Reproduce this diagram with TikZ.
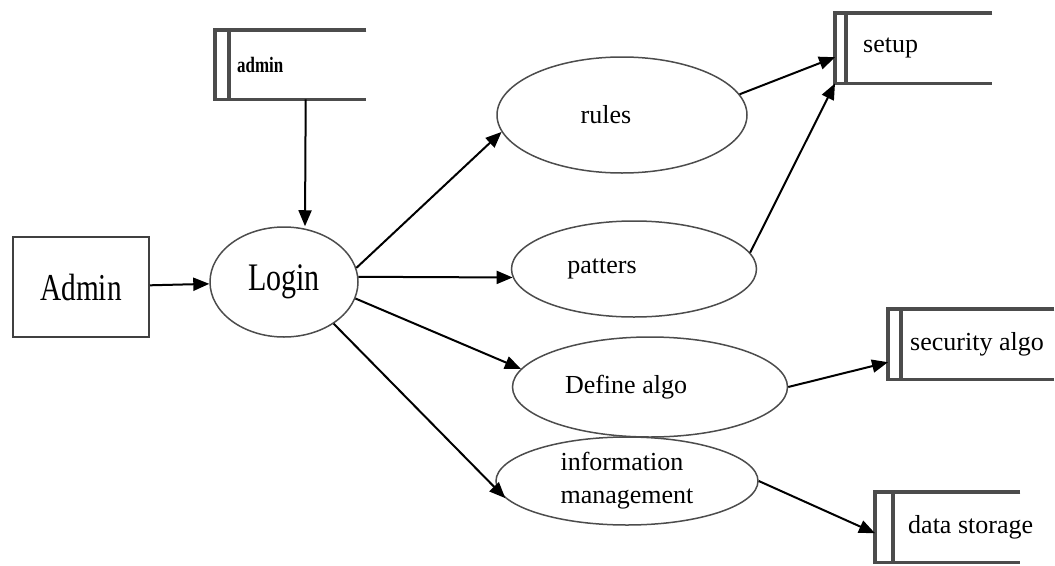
\documentclass[tikz,border=0pt]{standalone}
\usepackage{fontspec}
\setmainfont{Liberation Serif}
\newfontfamily\narrowserif[FakeStretch=0.77]{Liberation Serif}
\usepackage{tikz}
\usetikzlibrary{shapes.geometric,arrows.meta,positioning}
\newcommand{\storeframe}[2]{%
    \draw[storeline] (#1.north east) -- (#1.north west) -- (#1.south west) -- (#1.south east);
    \draw[storeline] ([xshift=#2]#1.north west) -- ([xshift=#2]#1.south west);}

\begin{document}
\begin{tikzpicture}[
    x=1pt, y=-1pt,
    proc/.style={ellipse, draw=black!70, line width=1.5pt, inner sep=0pt, font=\fontsize{26}{33}\selectfont, align=center},
    entity/.style={rectangle, draw=black!75, line width=2pt, minimum width=136pt, minimum height=100pt, font=\narrowserif\fontsize{38}{40}\selectfont},
    store/.style={rectangle, inner sep=0pt, anchor=north west, minimum height=70pt},
    storeline/.style={line width=3.2pt, black!70},
    storetext/.style={inner sep=0pt, font=\fontsize{26}{29}\selectfont},
    arrow/.style={-{Triangle[length=16pt, width=13pt]}, line width=2pt}
]
    \useasboundingbox (0,0) rectangle (1055,565);

    % Entity and login
    \node[entity] (admin) at (81,287) {Admin};
    \node[proc, minimum width=148pt, minimum height=110pt, font=\narrowserif\fontsize{39}{41}\selectfont] (login) at (284,282) {Login};

    % Processes
    \node[proc, minimum width=250pt, minimum height=116pt] (rules) at (622,115) {rules\hspace*{32pt}};
    \node[proc, minimum width=245pt, minimum height=96pt] (patters) at (634,269) {patters\hspace*{64pt}};
    \node[proc, minimum width=275pt, minimum height=100pt] (define) at (650,387) {Define algo\hspace*{48pt}};
    \node[proc, minimum width=262pt, minimum height=88pt, align=left] (info) at (627,481) {information\\management};

    % Data stores
    \node[store, minimum width=151pt, minimum height=69pt] (adminstore) at (215,30) {};
    \storeframe{adminstore}{14}
    \node[storetext, font=\narrowserif\bfseries\fontsize{22}{24}\selectfont, right=22pt of adminstore.west] (adminstore-text) {admin};

    \node[store, minimum width=157pt] (setup) at (835,13) {};
    \storeframe{setup}{11}
    \node[storetext, right=28pt of setup.west] (setup-text) {setup};

    \node[store, minimum width=166pt] (secalgo) at (888,309) {};
    \storeframe{secalgo}{13}
    \node[storetext, right=22pt of secalgo.west] (secalgo-text) {security algo};

    \node[store, minimum width=145pt] (datastore) at (875,492) {};
    \storeframe{datastore}{18}
    \node[storetext, right=33pt of datastore.west] (datastore-text) {data storage};

    % Flows
    \draw[arrow] ([xshift=15]adminstore.south) -- ([xshift=21]login.north);
    \draw[arrow] (admin) -- (login);
    \draw[arrow] (login.11) -- (rules.188);
    \draw[arrow] (login.4) -- (patters.184);
    \draw[arrow] (login.-13) -- (define.172);
    \draw[arrow] (login.-40) -- (info.188);
    \draw[arrow] (rules.10) -- ([yshift=-9]setup.west);
    \draw[arrow] (patters.8) -- (setup.south west);
    \draw[arrow] (define.0) -- ([yshift=-18]secalgo.west);
    \draw[arrow] (info.0) -- ([yshift=-6]datastore.west);
\end{tikzpicture}
\end{document}
